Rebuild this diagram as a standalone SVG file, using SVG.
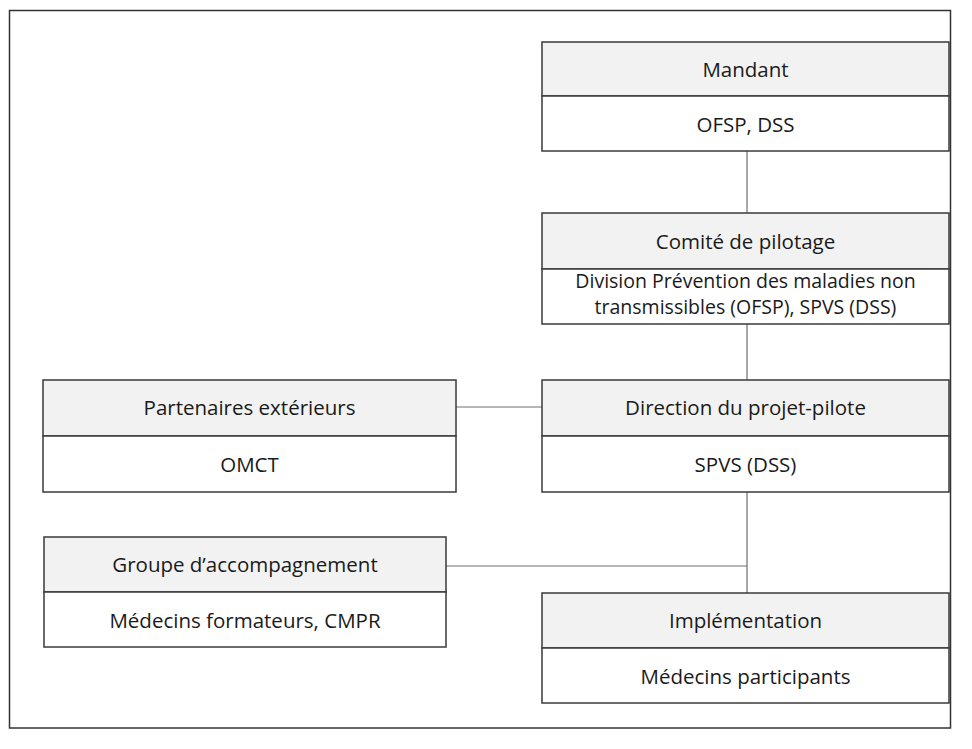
<svg xmlns="http://www.w3.org/2000/svg" width="972" height="749" viewBox="0 0 972 749">
<style>
.hd{fill:#f2f2f2;stroke:#3a3a3a;stroke-width:1.5}
.bd{fill:#ffffff;stroke:#3a3a3a;stroke-width:1.5}
.t{font-family:"Open Sans","Liberation Sans",sans-serif;font-size:20.5px;fill:#1a1a1a;text-anchor:middle}
.s{font-size:19.5px}
.c{stroke:#6e6e6e;stroke-width:1.2;fill:none}
</style>
<rect x="0" y="0" width="972" height="749" fill="#ffffff"/>
<rect x="9.5" y="10.5" width="941" height="717.5" fill="none" stroke="#333" stroke-width="1.5"/>
<g id="connectors">
<line class="c" x1="747" y1="151" x2="747" y2="213"/>
<line class="c" x1="747" y1="324" x2="747" y2="380"/>
<line class="c" x1="456" y1="407" x2="542" y2="407"/>
<line class="c" x1="747" y1="492" x2="747" y2="593"/>
<line class="c" x1="446" y1="566" x2="747" y2="566"/>
</g>
<g id="mandant">
<rect class="hd" x="542" y="42" width="407" height="54"/>
<rect class="bd" x="542" y="96" width="407" height="55"/>
<text class="t" x="745.5" y="76.5">Mandant</text>
<text class="t" x="745.5" y="131.5">OFSP, DSS</text>
</g>
<g id="comite">
<rect class="hd" x="542" y="213" width="407" height="56"/>
<rect class="bd" x="542" y="269" width="407" height="55"/>
<text class="t" x="745.5" y="248.5">Comité de pilotage</text>
<text class="t s" x="745.5" y="287.5">Division Prévention des maladies non</text>
<text class="t s" x="745.5" y="314">transmissibles (OFSP), SPVS (DSS)</text>
</g>
<g id="direction">
<rect class="hd" x="542" y="380" width="407" height="56"/>
<rect class="bd" x="542" y="436" width="407" height="56"/>
<text class="t" x="745.5" y="414.5">Direction du projet-pilote</text>
<text class="t" x="745.5" y="471.5">SPVS (DSS)</text>
</g>
<g id="partenaires">
<rect class="hd" x="43" y="380" width="413" height="56"/>
<rect class="bd" x="43" y="436" width="413" height="56"/>
<text class="t" x="249.5" y="414.5">Partenaires extérieurs</text>
<text class="t" x="249.5" y="471.5">OMCT</text>
</g>
<g id="groupe">
<rect class="hd" x="44" y="537" width="402" height="55"/>
<rect class="bd" x="44" y="592" width="402" height="55"/>
<text class="t" x="245" y="571.5">Groupe d’accompagnement</text>
<text class="t" x="245" y="627.5">Médecins formateurs, CMPR</text>
</g>
<g id="implementation">
<rect class="hd" x="542" y="593" width="407" height="55"/>
<rect class="bd" x="542" y="648" width="407" height="55"/>
<text class="t" x="745.5" y="627.5">Implémentation</text>
<text class="t" x="745.5" y="683.5">Médecins participants</text>
</g>
</svg>
